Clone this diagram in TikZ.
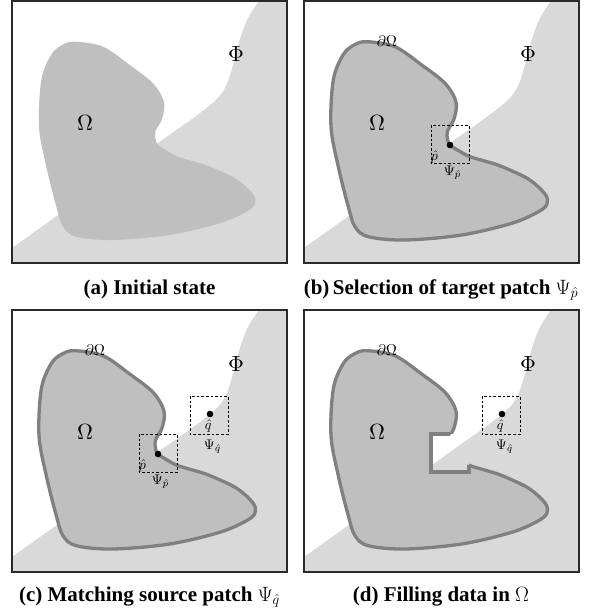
\documentclass[tikz,border=0pt]{standalone}
\usepackage{fontspec}
\setmainfont{Liberation Serif}
\definecolor{phicol}{HTML}{D9D9D9}
\definecolor{omfill}{HTML}{BFBFBF}
\definecolor{omline}{HTML}{808080}
\definecolor{framecol}{HTML}{2A2A2A}
\newcommand\omegapath{plot[smooth cycle, tension=0.55] coordinates {(62.7,40.7) (91,45.7) (117.7,64) (141,82.3) (152,101) (150,118) (143.5,130) (143.5,138) (146,144) (156,150.5) (166,155.7) (183,160.7) (197.7,165.5) (224.3,178) (241,193) (243,203) (234,211) (207.7,222.3) (157.7,234) (101,239) (64.3,235.7) (51,225.7) (44.3,205.7) (34.3,165.7) (27,125.7) (29.3,79) (39,54) (50,44)}}
\newcommand\phipath{(0,262) -- (0,247) -- plot[smooth, tension=0.5] coordinates {(0,247) (100,175.5) (146,142) (180,118) (204,99) (214,85) (221,64) (228,38) (236,17) (247,0)} -- (275,0) -- (275,262) -- cycle}
\newcommand\panelback{\fill[white] (0,0) rectangle (275,262); \fill[phicol] \phipath;}
\tikzset{
  framebox/.style={draw=framecol, line width=1.3pt},
  omstyle/.style={fill=omfill, draw=omline, line width=3.3pt},
  patchbox/.style={draw=black, line width=0.9pt, dash pattern=on 2.6pt off 2pt},
  biglab/.style={inner sep=0pt, font=\normalsize, scale=2.2},
  midlab/.style={inner sep=0pt, font=\normalsize, scale=1.55},
  smlab/.style={inner sep=0pt, font=\normalsize, scale=1.4},
  capt/.style={inner sep=0pt, anchor=base, font=\fontsize{21}{25}\selectfont\bfseries},
}
\begin{document}
\begin{tikzpicture}[x=1pt,y=-1pt]
\useasboundingbox (0,0) rectangle (590,614);
% ---------- (a)
\begin{scope}[shift={(12,1)}]
  \panelback
  \fill[omfill] \omegapath;
  \node[biglab] (omA) at (73,122) {$\Omega$};
  \node[biglab] (phiA) at (224,53) {$\Phi$};
  \draw[framebox] (0,0) rectangle (275,262);
\end{scope}
\node[capt] (capA) at (149.5,294) {(a) Initial state};
% ---------- (b)
\begin{scope}[shift={(304,1)}]
  \panelback
  \path[omstyle] \omegapath;
  \node[biglab] (omB) at (73,122) {$\Omega$};
  \node[biglab] (phiB) at (224,53) {$\Phi$};
  \node[midlab] (dB) at (83,40) {$\partial\Omega$};
  \draw[patchbox] (127,124) rectangle (165,162);
  \coordinate (pB) at (146,144);
  \fill (pB) circle[radius=3.3pt];
  \node[smlab] (phB) at (130.5,155.5) {$\hat p$};
  \node[smlab] (psB) at (148.5,171.5) {$\Psi_{\hat p}$};
  \draw[framebox] (0,0) rectangle (275,262);
\end{scope}
\node[capt] (capB) at (441,294) {(b)\,Selection of target patch $\Psi_{\hat p}$};
% ---------- (c)
\begin{scope}[shift={(12,310)}]
  \panelback
  \path[omstyle] \omegapath;
  \node[biglab] (omC) at (73,122) {$\Omega$};
  \node[biglab] (phiC) at (224,54) {$\Phi$};
  \node[midlab] (dC) at (83,40) {$\partial\Omega$};
  \draw[patchbox] (127,124) rectangle (165,162);
  \coordinate (pC) at (146,144);
  \fill (pC) circle[radius=3.3pt];
  \node[smlab] (phC) at (130.5,155.5) {$\hat p$};
  \node[smlab] (psC) at (148.5,171.5) {$\Psi_{\hat p}$};
  \draw[patchbox] (178,86) rectangle (216,124);
  \coordinate (qC) at (198,104);
  \fill (qC) circle[radius=3.3pt];
  \node[smlab] (qhC) at (196.3,115.5) {$\hat q$};
  \node[smlab] (qsC) at (200.5,137) {$\Psi_{\hat q}$};
  \draw[framebox] (0,0) rectangle (275,262);
\end{scope}
\node[capt] (capC) at (149.5,601) {(c) Matching source patch $\Psi_{\hat q}$};
% ---------- (d)
\begin{scope}[shift={(304,310)}]
  \panelback
  \path[omstyle] \omegapath;
  \begin{scope}
    \clip (127,124) rectangle (165,162);
    \fill[white] (127,124) rectangle (165,162);
    \fill[phicol] \phipath;
  \end{scope}
  \begin{scope}
    \clip \omegapath;
    \draw[omline, line width=3.3pt] (127,124) rectangle (165,162);
  \end{scope}
  \node[biglab] (omD) at (73,122) {$\Omega$};
  \node[biglab] (phiD) at (224,54) {$\Phi$};
  \node[midlab] (dD) at (83,40) {$\partial\Omega$};
  \draw[patchbox] (178,86) rectangle (216,124);
  \coordinate (qD) at (198,104);
  \fill (qD) circle[radius=3.3pt];
  \node[smlab] (qhD) at (196.3,115.5) {$\hat q$};
  \node[smlab] (qsD) at (200.5,137) {$\Psi_{\hat q}$};
  \draw[framebox] (0,0) rectangle (275,262);
\end{scope}
\node[capt] (capD) at (441,601) {(d) Filling data in $\Omega$};
\end{tikzpicture}
\end{document}
